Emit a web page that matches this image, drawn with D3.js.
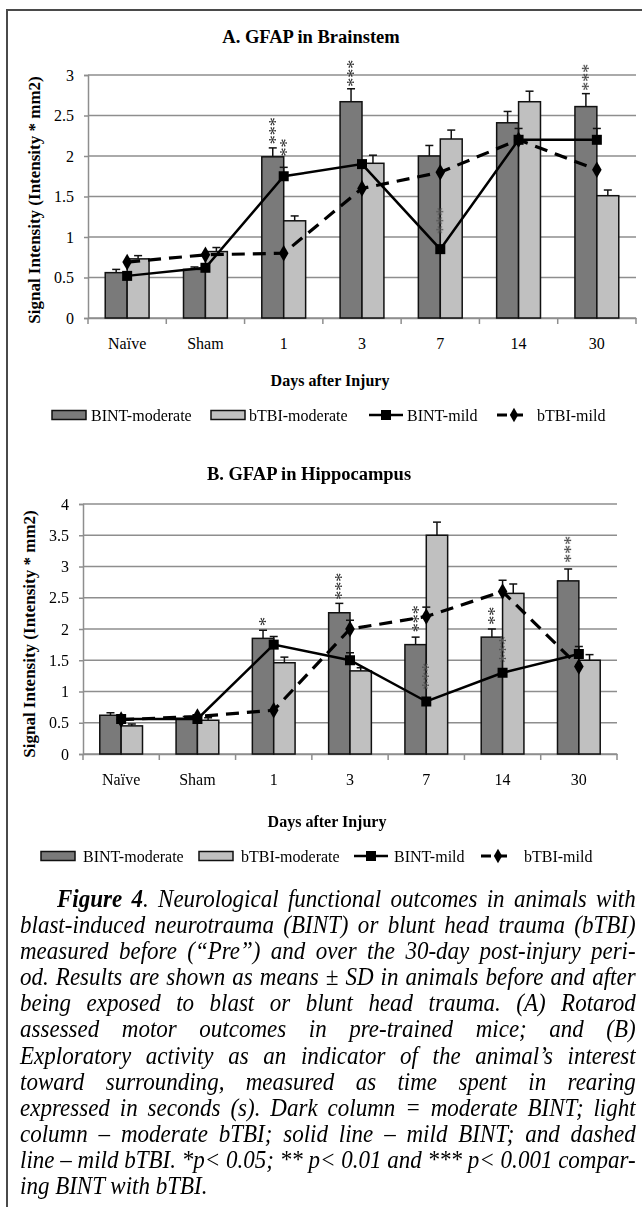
<!DOCTYPE html>
<html><head><meta charset="utf-8">
<script src="https://cdn.jsdelivr.net/npm/d3@7"></script>
<style>body{margin:0;background:#fff}svg{display:block}</style>
</head><body>
<svg id="c" width="642" height="1207"></svg>
<script>
// ---------------- DATA ----------------
const categories = ["Naïve","Sham","1","3","7","14","30"];
const seriesNames = ["BINT-moderate","bTBI-moderate","BINT-mild","bTBI-mild"];

// Panel A: GFAP in Brainstem
const aTicks = [0,0.5,1,1.5,2,2.5,3];
const aBintMod    = [0.56,0.60,1.99,2.67,2.00,2.41,2.61];
const aBintModErr = [0.04,0.03,0.11,0.16,0.13,0.14,0.16];
const aTbiMod     = [0.73,0.82,1.20,1.91,2.21,2.67,1.51];
const aTbiModErr  = [0.04,0.05,0.06,0.10,0.11,0.13,0.07];
const aBintMild    = [0.52,0.62,1.75,1.90,0.85,2.20,2.20];
const aBintMildErr = [0,0,0.11,0,0,0.14,0.14];
const aTbiMild     = [0.69,0.78,0.80,1.60,1.80,2.20,1.83];
const aTbiMildErr  = [0,0,0,0,0,0,0];
// significance marks: [category, position, count, value of lowest star, shade]
const aStars = [["1","dark",3,2.20,"d"],["1","mid",2,2.05,"d"],["3","dark",3,2.91,"d"],
                ["7","mid",3,1.09,"l"],["30","dark",3,2.86,"d"]];

// Panel B: GFAP in Hippocampus
const bTicks = [0,0.5,1,1.5,2,2.5,3,3.5,4];
const bBintMod    = [0.62,0.57,1.85,2.26,1.75,1.87,2.77];
const bBintModErr = [0.04,0.03,0.13,0.15,0.12,0.13,0.19];
const bTbiMod     = [0.45,0.54,1.46,1.33,3.50,2.57,1.50];
const bTbiModErr  = [0.03,0.04,0.09,0.05,0.21,0.15,0.09];
const bBintMild    = [0.56,0.56,1.75,1.50,0.84,1.30,1.60];
const bBintMildErr = [0,0,0.13,0.12,0,0,0.12];
const bTbiMild     = [0.55,0.60,0.70,2.00,2.20,2.60,1.40];
const bTbiMildErr  = [0,0,0,0.14,0.15,0.18,0];
const bStars = [["1","dark",1,2.12,"d"],["3","dark",3,2.54,"d"],["7","dark",3,2.02,"d"],
                ["7","mid",3,1.10,"l"],["14","dark",2,2.14,"d"],["14","mid",3,1.53,"l"],
                ["30","dark",3,3.13,"d"]];

const captionLines = [
 [["Figure 4","b"],[". Neurological functional outcomes in animals with",""]],
 [["blast-induced neurotrauma (BINT) or blunt head trauma (bTBI)",""]],
 [["measured before (“Pre”) and over the 30-day post-injury peri-",""]],
 [["od. Results are shown as means ± SD in animals before and after",""]],
 [["being exposed to blast or blunt head trauma. (A) Rotarod",""]],
 [["assessed motor outcomes in pre-trained mice; and (B)",""]],
 [["Exploratory activity as an indicator of the animal’s interest",""]],
 [["toward surrounding, measured as time spent in rearing",""]],
 [["expressed in seconds (s). Dark column = moderate BINT; light",""]],
 [["column – moderate bTBI; solid line – mild BINT; and dashed",""]],
 [["line – mild bTBI. *p< 0.05; ** p< 0.01 and *** p< 0.001 compar-",""]],
 [["ing BINT with bTBI.",""]]
];

// ---------------- DRAW ----------------
const svg = d3.select("#c");
const FONT = "'Liberation Serif','Times New Roman',serif";
const DARK = "#7a7a7a", LIGHT = "#c0c0c0", GRID = "#8e8e8e";

svg.append("path").attr("d","M7,1207V10H642").attr("fill","none")
   .attr("stroke","#4a4a4a").attr("stroke-width",2);

function panel(cfg){
  const g = svg.append("g");
  const x = d3.scaleBand().domain(categories).range([cfg.x0,cfg.x1]);
  const y = d3.scaleLinear().domain([0,d3.max(cfg.ticks)]).range([cfg.y0,cfg.y1]);
  const bw = x.bandwidth()*0.28;
  const cx = c => x(c)+x.bandwidth()/2;

  // title
  g.append("text").attr("x",cfg.titleX).attr("y",cfg.titleY).attr("text-anchor","middle")
   .attr("font-family",FONT).attr("font-weight","bold").attr("font-size",18.5).attr("fill","#000").text(cfg.title);

  // gridlines
  g.selectAll(".grid").data(cfg.ticks).enter().append("line")
   .attr("x1",cfg.x0).attr("x2",cfg.x1).attr("y1",d=>y(d)).attr("y2",d=>y(d))
   .attr("stroke",GRID).attr("stroke-width",1.5);
  // y axis
  const ya = g.append("g").attr("transform",`translate(${cfg.x0},0)`)
    .call(d3.axisLeft(y).tickValues(cfg.ticks).tickSize(4).tickPadding(10).tickFormat(d3.format("")));
  ya.select(".domain").attr("stroke",GRID).attr("stroke-width",1.5);
  ya.selectAll(".tick line").attr("stroke",GRID).attr("stroke-width",1.5);
  ya.selectAll("text").attr("font-family",FONT).attr("font-size",16).attr("fill","#000");
  // x axis
  const xa = g.append("g").attr("transform",`translate(0,${cfg.y0})`)
    .call(d3.axisBottom(x).tickSize(0).tickPadding(20));
  xa.select(".domain").attr("stroke",GRID).attr("stroke-width",1.5);
  xa.selectAll("text").attr("font-family",FONT).attr("font-size",16).attr("fill","#000");
  const bounds = categories.map(c=>x(c)).concat([cfg.x1]);
  g.selectAll(".xt").data(bounds).enter().append("line")
   .attr("x1",d=>d).attr("x2",d=>d).attr("y1",cfg.y0).attr("y2",cfg.y0+6)
   .attr("stroke",GRID).attr("stroke-width",1.5);

  // axis titles
  g.append("text").attr("x",cfg.xtX).attr("y",cfg.xtY).attr("text-anchor","middle")
   .attr("font-family",FONT).attr("font-weight","bold").attr("font-size",16).attr("fill","#000").text("Days after Injury");
  g.append("text").attr("transform",`translate(${cfg.ytX},${cfg.ytY}) rotate(-90)`)
   .attr("text-anchor","middle").attr("font-family",FONT).attr("font-weight","bold")
   .attr("font-size",17).attr("fill","#000").text("Signal Intensity (Intensity * mm2)");

  // bars
  const bars = [
    {vals:cfg.bm, errs:cfg.bmE, fill:DARK, off:-bw},
    {vals:cfg.tm, errs:cfg.tmE, fill:LIGHT, off:0}
  ];
  bars.forEach(s=>{
    g.selectAll(null).data(categories).enter().append("rect")
     .attr("x",c=>cx(c)+s.off).attr("width",bw)
     .attr("y",(c,i)=>y(s.vals[i])).attr("height",(c,i)=>y(0)-y(s.vals[i]))
     .attr("fill",s.fill).attr("stroke","#111").attr("stroke-width",1.5);
  });
  function errBars(vals,errs,off){
    categories.forEach((c,i)=>{
      if(!errs[i]) return;
      const xx = cx(c)+off;
      g.append("line").attr("x1",xx).attr("x2",xx).attr("y1",y(vals[i])).attr("y2",y(vals[i]+errs[i]))
       .attr("stroke","#111").attr("stroke-width",1.5);
      g.append("line").attr("x1",xx-4).attr("x2",xx+4).attr("y1",y(vals[i]+errs[i])).attr("y2",y(vals[i]+errs[i]))
       .attr("stroke","#111").attr("stroke-width",1.5);
    });
  }
  errBars(cfg.bm,cfg.bmE,-bw/2);
  errBars(cfg.tm,cfg.tmE,bw/2);
  errBars(cfg.bl,cfg.blE,0);
  errBars(cfg.tl,cfg.tlE,0);

  // stars: one vertical text per stack (rotated so glyphs stack upward)
  const SFS = 18;
  const sg = g.append("g").attr("opacity",0.99);
  cfg.stars.forEach(s=>{
    const xx = cx(s[0]) + (s[1]==="dark" ? -bw/2 : s[1]==="light" ? bw/2 : 0);
    const yy = y(s[3]) + 4.5;
    sg.append("text").attr("transform",`translate(${xx+SFS*0.5},${yy}) rotate(-90)`)
      .attr("font-family",FONT).attr("font-size",SFS).attr("letter-spacing",0)
      .attr("fill",s[4]==="d"?"#333":"#555").text("*".repeat(s[2]));
  });

  // lines
  const line = d3.line().x((v,i)=>cx(categories[i])).y(v=>y(v));
  g.append("path").attr("d",line(cfg.tl)).attr("fill","none").attr("stroke","#000")
   .attr("stroke-width",3.2).attr("stroke-dasharray","13,8");
  g.append("path").attr("d",line(cfg.bl)).attr("fill","none").attr("stroke","#000").attr("stroke-width",2.5);
  g.selectAll(null).data(cfg.tl).enter().append("path")
   .attr("d",d3.symbol(d3.symbolDiamond,80))
   .attr("transform",(v,i)=>`translate(${cx(categories[i])},${y(v)})`).attr("fill","#000");
  g.selectAll(null).data(cfg.bl).enter().append("rect")
   .attr("x",(v,i)=>cx(categories[i])-5).attr("y",v=>y(v)-5).attr("width",10).attr("height",10)
   .attr("fill","#000");

  // legend
  const L = cfg.leg, ly = cfg.legY;
  [[DARK,0],[LIGHT,1]].forEach(([f,k])=>{
    g.append("rect").attr("x",L[k]).attr("y",ly-4.5).attr("width",34).attr("height",9)
     .attr("fill",f).attr("stroke","#111").attr("stroke-width",1.5);
  });
  g.append("line").attr("x1",L[2]).attr("x2",L[2]+34).attr("y1",ly).attr("y2",ly)
   .attr("stroke","#000").attr("stroke-width",2.5);
  g.append("rect").attr("x",L[2]+12).attr("y",ly-5).attr("width",10).attr("height",10).attr("fill","#000");
  g.append("line").attr("x1",L[3]).attr("x2",L[3]+32).attr("y1",ly).attr("y2",ly)
   .attr("stroke","#000").attr("stroke-width",3).attr("stroke-dasharray","10,6");
  g.append("path").attr("d",d3.symbol(d3.symbolDiamond,60)).attr("transform",`translate(${L[3]+17},${ly})`);
  seriesNames.forEach((n,k)=>{
    g.append("text").attr("x",L[k]+cfg.legTx[k]).attr("y",ly+5.5).attr("font-family",FONT)
     .attr("font-size",16).attr("fill","#000").text(n);
  });
}

panel({title:"A. GFAP in Brainstem", titleX:311, titleY:43, ticks:aTicks,
  x0:88, x1:636, y0:318, y1:75, xtX:330, xtY:386, ytX:40, ytY:200,
  bm:aBintMod,bmE:aBintModErr,tm:aTbiMod,tmE:aTbiModErr,bl:aBintMild,blE:aBintMildErr,tl:aTbiMild,tlE:aTbiMildErr,
  stars:aStars, leg:[52,211,369,497], legTx:[39,38,38,40], legY:415});
panel({title:"B. GFAP in Hippocampus", titleX:309, titleY:480, ticks:bTicks,
  x0:83, x1:617, y0:754, y1:504, xtX:327, xtY:827, ytX:35, ytY:634,
  bm:bBintMod,bmE:bBintModErr,tm:bTbiMod,tmE:bTbiModErr,bl:bBintMild,blE:bBintMildErr,tl:bTbiMild,tlE:bTbiMildErr,
  stars:bStars, leg:[41,199,354,481], legTx:[42,42,40,43], legY:856});

// caption (justified)
const cap = svg.append("g");
const CAPX = 20, CAPR = 636, CAPY = 907, CAPDY = 26.1, CAPFS = 25.5;
const items = captionLines.map((parts,i)=>{
  const x0 = i===0 ? 57 : CAPX;
  const t = cap.append("text").attr("x",x0).attr("y",CAPY+i*CAPDY)
    .attr("font-family",FONT).attr("font-style","italic").attr("font-size",CAPFS).attr("fill","#000");
  parts.forEach(p=>{
    t.append("tspan").attr("font-weight",p[1]==="b"?"bold":"normal").text(p[0]);
  });
  const str = parts.map(p=>p[0]).join("");
  const ns = (str.match(/ /g)||[]).length;
  return {t, x0, w:t.node().getComputedTextLength(), ns, last:i===captionLines.length-1};
});
let s = 1;
items.forEach(it=>{ if(!it.last) s = Math.min(s, (CAPR-it.x0)/it.w); });
items.forEach(it=>{
  it.t.attr("transform",`translate(${it.x0},0) scale(${s},1) translate(${-it.x0},0)`);
  if(!it.last){
    const extra = ((CAPR-it.x0)/s - it.w)/it.ns;
    it.t.attr("word-spacing",extra);
  }
});
</script>
</body></html>
